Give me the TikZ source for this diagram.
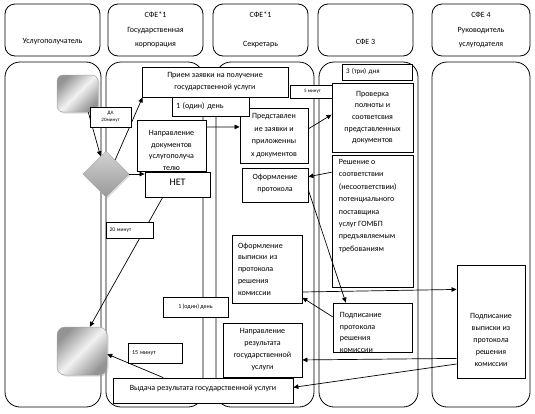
\documentclass[tikz,border=0pt]{standalone}
\usepackage{fontspec}
\setmainfont{Carlito}
\usetikzlibrary{arrows.meta,shapes.geometric,shadows}
\begin{document}
\begin{tikzpicture}[x=1pt,y=-1pt,
  lane/.style={draw, line width=0.8pt, rounded corners=15pt},
  hdr/.style={draw, line width=0.8pt, rounded corners=10pt, inner sep=0pt, align=center, font=\fontsize{8}{14.5}\selectfont},
  box/.style={draw, fill=white, line width=0.8pt, inner sep=0pt, align=center, font=\fontsize{8}{12}\selectfont},
  tag/.style={draw, fill=white, line width=0.8pt, inner sep=0pt, align=center, font=\fontsize{5.5}{7}\selectfont},
  txt/.style={draw=none, fill=none, inner sep=0pt, minimum width=0pt, minimum height=0pt, font=\fontsize{8}{12}\selectfont},
  grad/.style={draw=gray!70, line width=0.5pt, left color=gray!85, right color=gray!85, middle color=gray!10, shading angle=45, drop shadow={opacity=0.25, shadow xshift=1.5pt, shadow yshift=-1.5pt}},
  arr/.style={line width=0.7pt, -{Triangle[length=5pt,width=4.5pt]}}
]
\useasboundingbox (0,0) rectangle (535,413);

% headers
\node[hdr, minimum width=95pt, minimum height=52pt] (h1) at (52.5,30) {~\\~\\Услугополучатель};
\node[hdr, minimum width=95pt, minimum height=52pt] (h2) at (155.5,30) {СФЕ*1\\Государственная\\корпорация};
\node[hdr, minimum width=95pt, minimum height=52pt] (h3) at (260.5,30) {СФЕ*1\\~\\Секретарь};
\node[hdr, minimum width=95pt, minimum height=52pt] (h4) at (365.5,30) {~\\~\\СФЕ 3};
\node[hdr, minimum width=98pt, minimum height=52pt] (h5) at (481,30) {СФЕ 4\\Руководитель\\услугодателя};

% lanes
\draw[lane] (5,62) rectangle (101,407);
\draw[lane] (106,62) rectangle (203,407);
\draw[lane] (216,62) rectangle (314,407);
\draw[lane] (319,62) rectangle (418,407);
\draw[lane] (432,62) rectangle (530,407);

% main boxes
\node[box, minimum width=146pt, minimum height=30pt] (priem) at (215,82) {Прием заявки на получение\\государственной услуги};
\node[box, minimum width=68pt, minimum height=55pt, font=\fontsize{8}{12.5}\selectfont] (pred) at (274,135.5) {Представлен\\ие заявки и\\приложенны\\х документов};
\node[box, minimum width=77pt, minimum height=19pt, text width=69pt, align=left] (den1) at (210.5,106.5) {1 (один) день};
\node[box, minimum width=69pt, minimum height=51pt,
  path picture={\node[txt, anchor=north, align=center, font=\fontsize{8}{11.7}\selectfont] (naprt) at ([yshift=-10pt]path picture bounding box.north) {Направление\\документов\\услугополуча\\телю};}] (napr) at (171.5,145.5) {};
\node[box, minimum width=65pt, minimum height=25pt, font=\fontsize{10}{12}\selectfont, text depth=4pt] (net) at (177.5,184.5) {НЕТ};
\node[tag, minimum width=45pt, minimum height=13pt, font=\fontsize{5}{6}\selectfont] (five) at (312.5,91.5) {5 минут};
\node[box, minimum width=70pt, minimum height=16pt, text width=62pt, align=left, font=\fontsize{7}{8}\selectfont] (three) at (377,72) {3 (три) дня};
\node[box, minimum width=81pt, minimum height=69pt, font=\fontsize{8}{11.7}\selectfont] (prov) at (372.5,117.5) {Проверка\\полноты и\\соответсвия\\представленных\\документов};
\node[box, minimum width=81pt, minimum height=132pt,
  path picture={\node[txt, anchor=north west, align=left, font=\fontsize{8}{12.4}\selectfont] (resht) at ([xshift=6.5pt,yshift=-4pt]path picture bounding box.north west) {Решение о\\соответствии\\(несоответствии)\\потенциального\\поставщика\\услуг ГОМБП\\предъявляемым\\требованиям};}] (resh) at (372.5,221) {};
\node[box, minimum width=66pt, minimum height=34pt, text depth=5pt] (oform) at (275,185) {Оформление\\протокола};
\node[box, minimum width=70pt, minimum height=68pt, text width=58pt, align=left, font=\fontsize{8}{11.7}\selectfont] (vyp) at (267,269) {Оформление\\выписки из\\протокола\\решения\\комиссии};
\node[box, minimum width=79pt, minimum height=49pt,
  path picture={\node[txt, anchor=north west, align=left, font=\fontsize{8}{11.5}\selectfont] (podpprott) at ([xshift=6.5pt,yshift=-9pt]path picture bounding box.north west) {Подписание\\протокола\\решения\\комиссии};}] (podpprot) at (372.5,327.5) {};
\node[box, minimum width=68pt, minimum height=113pt,
  path picture={\node[txt, anchor=north, align=center, font=\fontsize{8}{12}\selectfont] (podpvypt) at ([yshift=-48pt]path picture bounding box.north) {Подписание\\выписки из\\протокола\\решения\\комиссии};}] (podpvyp) at (491,321.5) {};
\node[box, minimum width=79pt, minimum height=54pt] (napres) at (262.5,350) {Направление\\результата\\государственной\\услуги};
\node[box, minimum width=180pt, minimum height=25pt, text depth=5pt] (vydacha) at (203,390.5) {Выдача результата государственной услуги};

% gradient shapes
\node[grad, rounded corners=6pt, minimum width=41pt, minimum height=37pt, inner sep=0pt] (start) at (77.5,93.5) {};
\node[grad, rounded corners=8pt, minimum width=50pt, minimum height=48pt, inner sep=0pt] (end) at (82,351) {};
\node[diamond, draw=gray!70, line width=0.5pt, top color=gray!35, bottom color=gray!80, minimum width=46pt, minimum height=46pt, inner sep=0pt, drop shadow={opacity=0.25, shadow xshift=1.5pt, shadow yshift=-1.5pt}] (dia) at (106,174) {};

% connectors
\draw[arr] (start.-60) -- (dia.107);
\draw[arr] (dia.57) -- (priem.192);
\draw[arr] (dia.east) -- (dia.east -| net.west);
\draw[arr] (net.221) -- (end.72);
\draw[arr] (vydacha.162) -- (end.-7);
\draw[arr] (napr.28) -- (pred.166);
\draw[arr] (pred.11) -- (prov.176);
\draw[arr] (resh.130) -- (oform.14);
\draw[arr] (oform.-9) -- (podpprot.137);
\draw[arr] (podpprot.165) -- (vyp.-39);
\draw[arr] (vyp.-33) -- (podpvyp.137);
\draw[arr] (podpvyp.227) -- (napres.-14);
\draw[arr] (podpvyp.231) -- (vydacha.2);

% labels on top
\node[tag, minimum width=41pt, minimum height=20pt, font=\fontsize{5}{7}\selectfont] (da) at (110.5,117) {ДА\\20минут};
\node[tag, minimum width=47pt, minimum height=16pt, text width=40pt, align=left] (min20) at (129.5,230) {20 минут};
\node[tag, minimum width=65pt, minimum height=20pt, font=\fontsize{6}{7}\selectfont] (den2) at (195.5,307) {1 (один) день};
\node[tag, minimum width=54pt, minimum height=20pt, text width=46pt, align=left, font=\fontsize{6}{7}\selectfont] (min15) at (155,353) {15 минут};
\end{tikzpicture}
\end{document}
